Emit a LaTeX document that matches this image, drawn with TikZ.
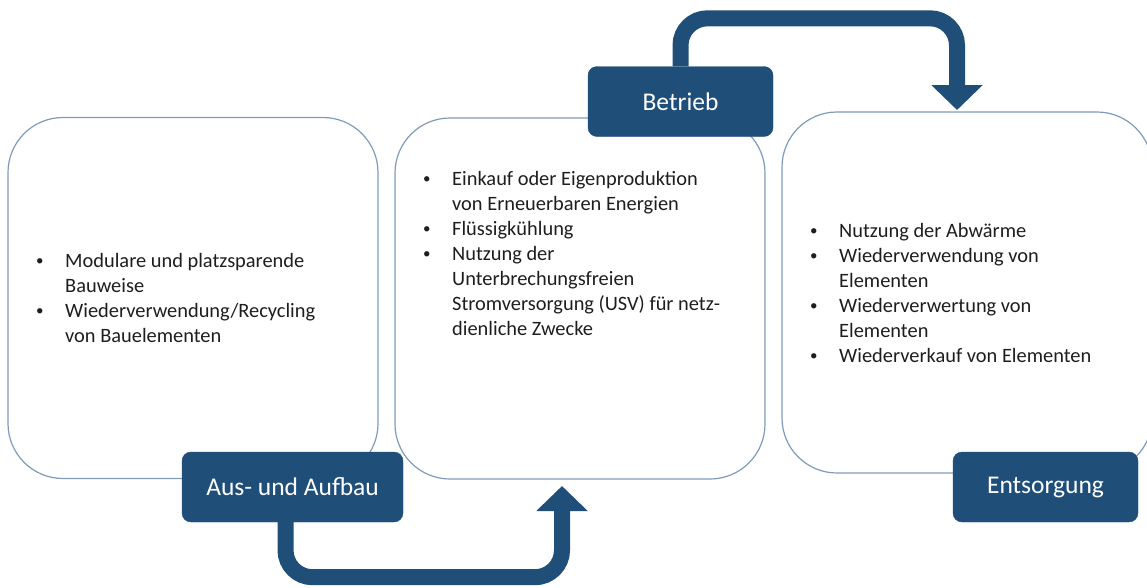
\documentclass[tikz,border=0pt]{standalone}
\usepackage{fontspec}
\setmainfont{Carlito}
\usetikzlibrary{arrows.meta}
\definecolor{dblue}{RGB}{31,78,121}
\definecolor{lblue}{RGB}{128,155,186}
\definecolor{txt}{RGB}{30,30,30}
\newcommand{\bul}{\raisebox{1.2pt}{\fontsize{15}{15}\selectfont\textbullet}}
\begin{document}
\begin{tikzpicture}[x=1pt,y=-1pt,
  bigbox/.style={draw=lblue, line width=1.2pt, fill=white, rounded corners=55pt, minimum width=370pt, minimum height=361pt, inner sep=0pt},
  phase/.style={fill=dblue, draw=dblue, rounded corners=9pt, text=white, font=\fontsize{25.5}{30}\selectfont, inner sep=0pt, minimum height=70pt},
  bullets/.style={anchor=base west, inner sep=0pt, font=\fontsize{20.4}{25}\selectfont, text=txt},
  flow/.style={draw=dblue, line width=16pt, rounded corners=27pt, -{Triangle[width=50pt,length=25pt]}}
]
\useasboundingbox (0,0) rectangle (1147,587);

% big boxes
\node[bigbox] (box1) at (193,298) {};
\node[bigbox] (box2) at (580,298.5) {};
\node[bigbox] (box3) at (967,292.5) {};

% texts
\node[bullets] (t1) at (36,267) {\begin{tabular}[t]{@{}p{29pt}@{}l@{}}
\bul & Modulare und platzsparende\\
 & Bauweise\\
\bul & Wiederverwendung/Recycling\\
 & von Bauelementen
\end{tabular}};

\node[bullets] (t2) at (423,185) {\begin{tabular}[t]{@{}p{29pt}@{}l@{}}
\bul & Einkauf oder Eigenproduktion\\
 & von Erneuerbaren Energien\\
\bul & Flüssigkühlung\\
\bul & Nutzung der\\
 & Unterbrechungsfreien\\
 & Stromversorgung (USV) für netz-\\
 & dienliche Zwecke
\end{tabular}};

\node[bullets] (t3) at (810,237) {\begin{tabular}[t]{@{}p{29pt}@{}l@{}}
\bul & Nutzung der Abwärme\\
\bul & Wiederverwendung von\\
 & Elementen\\
\bul & Wiederverwertung von\\
 & Elementen\\
\bul & Wiederverkauf von Elementen
\end{tabular}};

% phase labels
\node[phase, minimum width=221pt] (aus) at (292.5,487) {Aus- und Aufbau};
\node[phase, minimum width=185pt] (betrieb) at (680.5,101.5) {Betrieb};
\node[phase, minimum width=185pt] (ents) at (1045.5,487) {Entsorgung};

% arrows
\coordinate (tipA) at (562,486);
\coordinate (tipB) at (957,110);
\draw[flow] ([xshift=-7pt]aus.south) -- ++(0,55) -| (tipA);
\draw[flow] (betrieb.north) -- ++(0,-48) -| (tipB);
\end{tikzpicture}
\end{document}
